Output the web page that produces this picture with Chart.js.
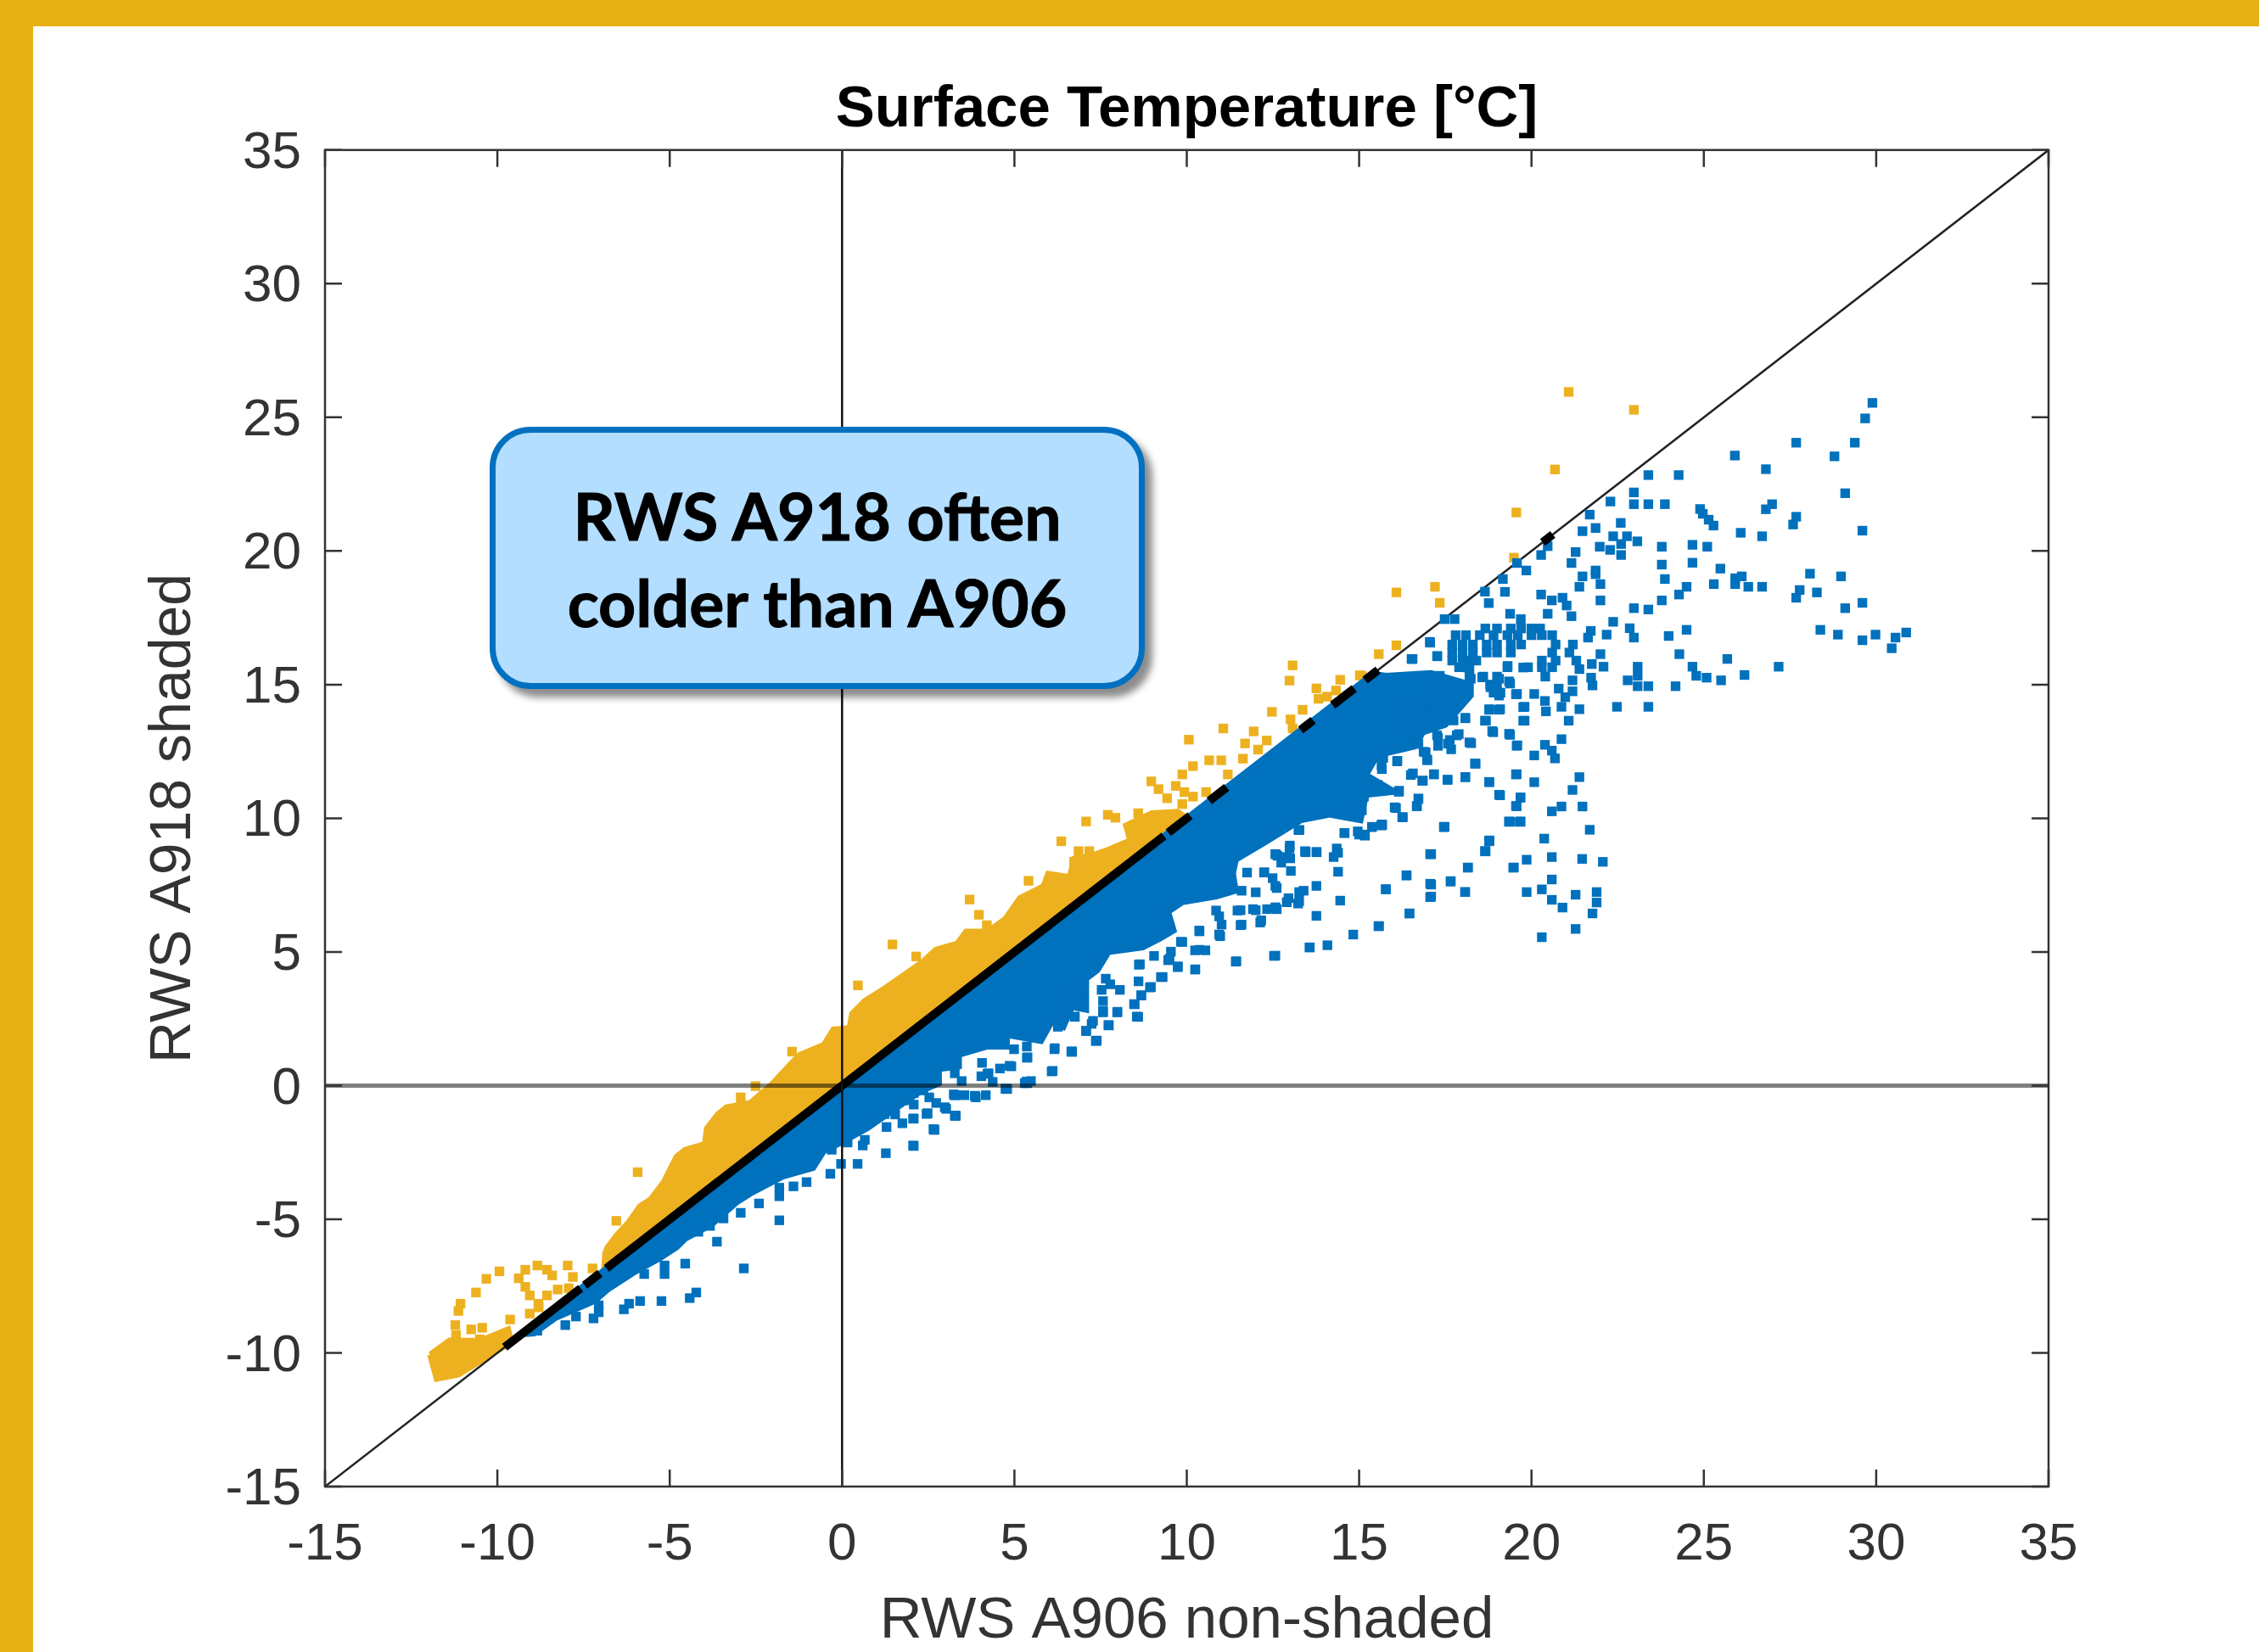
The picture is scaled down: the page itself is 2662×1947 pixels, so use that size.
<!DOCTYPE html>
<html>
<head>
<meta charset="utf-8">
<title>Surface Temperature</title>
<script src="https://cdn.jsdelivr.net/npm/chart.js@4"></script>
<style>
    html, body { margin: 0; padding: 0; background: #fff; }
    #page { position: relative; width: 2662px; height: 1947px; overflow: hidden; }
    #stripTop { position: absolute; left: 0; top: 0; width: 2662px; height: 31px; background: #e6af14; }
    #stripLeft { position: absolute; left: 0; top: 0; width: 39px; height: 1947px; background: #e6af14; }
    #plot { position: absolute; left: 0; top: 0; }
    #callout {
        position: absolute; left: 577px; top: 503px; width: 772px; height: 309px;
        box-sizing: border-box; border: 7px solid #0070c0; border-radius: 48px;
        background: #b3deff; box-shadow: 9px 10px 9px rgba(0, 0, 0, .45);
        display: flex; align-items: center; justify-content: center; text-align: center;
        font: 700 77px/102px Lato, sans-serif; color: #000; -webkit-text-stroke: 1px #000;
    }
</style>
</head>
<body>
<div id="page">
    <div id="stripTop"></div>
    <div id="stripLeft"></div>
    <canvas id="plot" width="2662" height="1947"></canvas>
    <div id="callout"><div>RWS A918 often<br>colder than A906</div></div>
</div>
<script>
// ---- Data ------------------------------------------------------------------
const chartTitle = "Surface Temperature [°C]";
const xTitle = "RWS A906 non-shaded";
const yTitle = "RWS A918 shaded";
const axisMin = -15;
const axisMax = 35;
const tickStep = 5;

// 1:1 line and the two zero lines
const diagonalLine = [[-15, -15], [35, 35]];
const zeroHorizontal = [[-15, 0], [35, 0]];
const zeroVertical = [[0, -15], [0, 35]];

// solid part of the gold cloud (outline, A918 warmer than A906)
const goldOutline = [
    [-6.9, -6.9], [-6.87, -6.26], [-6.8, -6.05], [-6.55, -5.62], [-6.18, -5.1], [-5.86, -4.51],
    [-5.55, -4.25], [-5.17, -3.61], [-4.8, -2.66], [-4.55, -2.4], [-3.98, -2.19], [-3.92, -1.6],
    [-3.6, -1.07], [-3.35, -0.81], [-2.66, -0.65], [-2.04, 0.04], [-1.47, 0.83], [-1.22, 1.15],
    [-0.53, 1.52], [-0.25, 2.1], [0.22, 2.15], [0.29, 2.68], [0.65, 3.16], [1.21, 3.61],
    [1.84, 4.18], [2.34, 4.63], [2.72, 5.08], [3.34, 5.31], [3.6, 5.76], [4.22, 5.76],
    [4.73, 6.22], [5.16, 7.01], [5.85, 7.46], [5.98, 7.92], [6.61, 7.8], [6.73, 8.48],
    [7.23, 8.6], [7.74, 8.83], [8.36, 9.17], [8.24, 9.73], [8.99, 10.19], [9.74, 10.24],
    [10, 10], [-6.9, -6.9]
];
const goldTail = [
    [-11.95, -10.07], [-11.76, -10.97], [-11.13, -10.81], [-9.6, -9.6], [-9.69, -9.12],
    [-10.5, -9.55], [-11.39, -9.54], [-11.95, -10.07]
];
const goldPoints = [
    [0.46, 3.75], [1.46, 5.28], [2.15, 4.83], [3.7, 6.96], [3.97, 6.39], [4.2, 6.0], [5.41, 7.66],
    [5.67, 7.12], [6.36, 9.14], [7.08, 9.88], [6.73, 8.37], [7.71, 10.13], [7.93, 10.02],
    [6.86, 8.77], [7.17, 8.77], [8.59, 10.19], [8.37, 9.68], [8.97, 11.38], [9.18, 11.09],
    [9.43, 10.75], [9.68, 11.21], [9.93, 10.98], [10.18, 10.81], [9.87, 10.53], [10.56, 10.98],
    [9.87, 11.64], [10.18, 11.95], [10.65, 12.17], [11.0, 12.17], [10.06, 12.94], [11.06, 13.36],
    [11.63, 12.23], [11.69, 12.8], [11.94, 13.25], [12.32, 12.91], [12.07, 12.57], [11.19, 11.64],
    [12.47, 13.98], [13.01, 13.7], [13.36, 14.06], [13.07, 13.36], [13.76, 14.86], [13.82, 14.47],
    [14.07, 14.55], [14.45, 15.18], [14.33, 14.78], [15.02, 15.35], [12.98, 15.15], [13.07, 15.72],
    [21.08, 25.95], [22.97, 25.28], [20.68, 23.05], [19.56, 21.44], [19.49, 19.75], [16.08, 18.45],
    [17.2, 18.66], [17.34, 18.06], [16.08, 16.47], [15.57, 16.14], [15.08, 15.33],
    [-1.45, 1.27], [-2.51, -0.02], [-2.94, -0.44], [-5.93, -3.24], [-6.55, -5.06], [-7.24, -6.84],
    [-7.96, -6.73], [-7.81, -7.16], [-8.56, -6.89], [-8.84, -6.73], [-9.19, -6.89], [-8.41, -7.1],
    [-9.38, -7.21], [-9.19, -7.53], [-9.06, -7.85], [-8.81, -8.16], [-8.56, -7.85], [-8.25, -7.63],
    [-7.93, -7.58], [-9.94, -6.95], [-10.32, -7.23], [-10.62, -7.74], [-11.07, -8.16], [-11.13, -8.43],
    [-9.63, -8.75], [-11.22, -8.96], [-11.2, -9.33], [-10.76, -9.12], [-10.44, -9.06], [-10.51, -9.49],
    [-10.95, -9.64], [-9.06, -8.53], [-8.8, -8.3]
];

// solid part of the blue cloud (outline, A918 colder than A906)
const blueOutline = [
    [-9.3, -9.3], [-8.94, -9.27], [-8.31, -8.69], [-7.18, -8.06], [-6.8, -7.63], [-6.43, -7.32],
    [-6.05, -7.0], [-5.3, -6.47], [-4.8, -6.05], [-4.55, -5.73], [-3.79, -5.2], [-3.04, -4.35],
    [-2.66, -4.04], [-1.72, -3.4], [-0.84, -3.08], [-0.53, -2.45], [-0.03, -2.13], [0.73, -1.6],
    [1.4, -1.0], [2.3, -0.2], [2.81, 0.09], [2.81, 0.62], [3.39, 0.72], [3.39, 1.15], [4.21, 1.46],
    [4.78, 1.46], [4.78, 1.89], [5.77, 1.67], [6.09, 2.41], [6.42, 2.2], [6.67, 2.94], [7.08, 2.84],
    [7.08, 4.0], [7.41, 4.32], [7.73, 5.0], [8.72, 5.17], [9.21, 5.49], [9.62, 5.8], [9.46, 6.5],
    [9.87, 6.86], [10.85, 7.07], [11.42, 7.29], [11.34, 7.92], [11.42, 8.45], [12.24, 9.08],
    [13.32, 9.93], [14.14, 10.14], [15.04, 9.93], [15.2, 10.88], [16.03, 10.99], [15.2, 11.62],
    [15.53, 12.36], [16.6, 12.68], [16.85, 13.21], [17.5, 13.5], [18.24, 14.59], [18.24, 15.0],
    [17.09, 15.43], [15.78, 15.33], [15.4, 15.4], [-9.3, -9.3]
];
const bluePoints = [
    // sparse right-hand part
    [29.89, 25.54], [29.68, 24.96], [27.68, 24.05], [29.38, 24.05], [25.9, 23.57], [28.79, 23.54],
    [26.8, 23.06], [23.39, 22.84], [24.27, 22.84], [22.97, 22.19], [29.1, 22.16], [22.29, 21.85],
    [22.97, 21.75], [23.39, 21.75], [23.87, 21.75], [26.98, 21.75], [26.8, 21.56], [24.89, 21.57],
    [24.97, 21.39], [25.14, 21.17], [25.28, 20.95], [21.69, 21.36], [27.68, 21.28], [27.59, 20.99],
    [22.59, 21.05], [21.86, 20.86], [21.48, 20.74], [26.07, 20.68], [26.69, 20.55], [29.6, 20.76],
    [22.37, 20.55], [22.77, 20.55], [23.07, 20.36], [22.6, 20.26], [21.98, 20.16], [22.28, 20.04],
    [23.78, 20.16], [24.67, 20.23], [25.1, 20.16], [20.47, 20.18], [20.28, 19.85], [21.28, 19.96],
    [22.6, 19.85], [21.16, 19.55], [23.78, 19.49], [24.67, 19.56], [25.48, 19.34], [19.58, 19.55],
    [19.85, 19.27], [21.86, 19.27], [21.48, 19.05], [21.86, 19.13], [19.17, 18.95], [23.87, 18.95],
    [28.08, 19.15], [28.98, 19.05], [25.91, 18.98], [26.1, 19.05], [22.0, 18.76], [21.39, 18.66],
    [24.5, 18.66], [25.29, 18.76], [25.91, 18.76], [26.29, 18.66], [26.69, 18.66], [27.78, 18.54],
    [28.28, 18.45], [18.65, 18.48], [19.23, 18.47], [20.28, 18.37], [24.28, 18.37], [27.68, 18.25],
    [20.59, 18.15], [20.9, 18.25], [22.0, 18.15], [23.78, 18.15], [18.76, 18.05], [29.6, 18.06],
    [21.02, 17.96], [22.97, 17.86], [23.39, 17.81], [29.1, 17.86], [19.38, 17.65], [20.47, 17.65],
    [21.16, 17.56], [19.69, 17.45], [17.48, 17.45], [17.77, 17.45], [22.37, 17.35], [24.5, 17.05],
    [28.38, 17.05], [22.85, 17.11], [28.89, 16.87], [30.87, 16.95], [29.98, 16.87], [30.56, 16.76],
    [29.6, 16.66], [23.98, 16.82], [22.97, 16.76], [30.45, 16.36], [21.72, 17.01], [22.18, 16.87],
    [21.64, 16.76], [17.06, 16.57], [24.29, 16.14], [25.68, 15.96], [27.17, 15.67], [17.27, 16.06],
    [22.0, 16.14], [16.55, 15.96], [22.09, 15.67], [21.75, 15.77], [21.39, 15.58], [24.67, 15.67],
    [23.08, 15.67], [23.08, 15.33], [24.78, 15.33], [25.08, 15.26], [25.5, 15.16], [26.18, 15.36],
    [22.79, 15.16], [21.19, 15.16], [21.73, 15.26], [21.77, 14.97], [23.08, 14.94], [23.39, 14.94],
    [24.18, 14.94], [20.79, 14.85], [21.19, 14.75], [20.98, 14.53], [19.38, 15.04], [22.48, 14.17],
    [23.39, 14.17], [21.39, 14.08], [20.87, 14.17], [20.42, 14.0], [19.8, 14.17], [20.39, 14.39],
    [20.08, 14.65], [19.58, 14.65], [19.09, 14.08], [18.78, 14.08], [18.68, 13.65], [19.8, 13.65],
    [21.08, 13.65], [18.89, 13.22], [19.38, 13.12], [20.87, 12.96], [19.57, 12.71], [20.39, 12.75],
    [20.59, 12.53], [20.08, 12.35], [20.68, 12.24], [18.38, 12.04], [19.57, 11.65], [21.39, 11.54],
    [20.08, 11.35], [18.78, 11.35], [18.08, 11.54], [17.57, 11.44], [17.17, 11.65], [21.19, 11.06],
    [19.09, 10.86], [19.68, 10.77], [19.57, 10.45], [20.87, 10.44], [21.48, 10.44], [20.59, 10.26],
    [19.38, 9.87], [19.68, 9.87], [21.69, 9.57], [17.48, 9.68], [20.37, 9.24], [18.78, 9.17],
    [18.67, 8.76], [17.06, 8.66], [20.59, 8.55], [19.86, 8.45], [21.47, 8.48], [22.07, 8.37],
    [18.16, 8.16], [19.49, 8.16], [16.38, 7.87], [20.59, 7.71], [17.66, 7.65], [17.06, 7.55],
    [15.78, 7.34], [18.08, 7.24], [19.86, 7.24], [20.3, 7.34], [21.89, 7.24], [21.28, 7.14],
    [17.06, 7.05], [20.59, 6.95], [21.89, 6.85], [20.9, 6.66], [16.46, 6.44], [21.77, 6.44],
    [15.56, 5.96], [21.28, 5.86], [20.3, 5.55],
    // denser knot around (18, 16)
    [18.66, 17.1], [19.0, 17.1], [19.4, 17.1], [19.7, 17.1], [20.0, 17.1], [20.25, 17.1],
    [17.8, 16.85], [18.1, 16.85], [18.5, 16.85], [18.9, 16.85], [19.3, 16.85], [19.6, 16.85],
    [20.0, 16.85], [20.3, 16.85], [20.6, 16.85], [17.7, 16.5], [18.0, 16.5], [18.3, 16.5],
    [18.7, 16.5], [19.0, 16.5], [19.4, 16.5], [19.7, 16.5], [20.7, 16.5], [21.2, 16.5],
    [17.7, 16.2], [18.0, 16.2], [18.3, 16.2], [18.7, 16.2], [19.0, 16.2], [19.4, 16.2],
    [20.6, 16.2], [21.1, 16.2], [17.7, 15.9], [18.0, 15.9], [18.2, 15.9], [18.4, 15.9],
    [20.3, 15.9], [20.7, 15.9], [21.3, 15.9], [17.9, 15.65], [18.2, 15.65], [19.3, 15.65],
    [19.9, 15.65], [20.3, 15.65], [20.6, 15.65], [18.2, 15.3], [18.6, 15.3], [19.0, 15.3], [20.4, 15.3],
    [18.8, 15.0], [19.0, 15.0], [18.9, 14.7], [19.1, 14.7],
    // fringe below the solid cloud, upper end
    [17.34, 15.33], [17.42, 14.9], [17.75, 14.69], [16.52, 15.96], [17.26, 16.07], [17.05, 16.6],
    [16.52, 14.16], [16.93, 14.27], [17.5, 14.27], [18.08, 13.74], [17.42, 13.69], [16.93, 13.85],
    [16.44, 13.63], [17.83, 13.1], [17.26, 13.1], [16.68, 13.1], [17.58, 12.79], [17.67, 12.58],
    [16.93, 12.47], [16.97, 12.2], [16.11, 12.15], [15.7, 12.26], [15.66, 11.84], [16.56, 11.68],
    [16.85, 11.41], [17.17, 11.64], [17.56, 11.44], [18.08, 11.54], [16.15, 10.99], [16.72, 10.72],
    [16.68, 10.46], [16.03, 10.41], [16.27, 10.04], [15.66, 9.77], [15.37, 9.67], [14.96, 9.51],
    [15.17, 9.35], [14.57, 9.45], [17.46, 9.67], [18.77, 11.36], [19.06, 10.88], [19.55, 10.46],
    [19.68, 10.78], [19.35, 9.88], [19.68, 9.88], [18.77, 9.14], [18.65, 8.77], [17.07, 8.66],
    [14.35, 8.87], [14.26, 8.55], [13.77, 8.73], [13.44, 8.73], [12.99, 8.98], [12.91, 8.55],
    [12.58, 8.66], [13.24, 9.56], [18.36, 12.05], [19.59, 12.73], [19.55, 11.64], [18.2, 12.84],
    [19.35, 13.16], [18.86, 13.26], [18.65, 13.65], [19.76, 13.65], [18.77, 14.06], [19.06, 14.06],
    [19.76, 14.16], [19.55, 14.64], [19.06, 14.59], [18.81, 14.9], [19.06, 15.22], [18.57, 15.27],
    [19.35, 15.12], [19.31, 15.7], [19.76, 15.64], [18.16, 15.64], [18.24, 15.22],
    [16.33, 13], [16.72, 13.15], [16.72, 12.78], [17.29, 13], [17.29, 12.71], [17.63, 12.93],
    [17.89, 13.15], [18.25, 12.81], [16.87, 12.49], [16.98, 12.17], [16.1, 12.13], [15.65, 11.98],
    [15.65, 12.27], [16.5, 11.62], [16.83, 11.4], [16.16, 11.03], [15.54, 11.25], [15.2, 11.4],
    [16.72, 10.74], [16.67, 10.45], [16.07, 10.38], [16.25, 10.04], [15.37, 9.68], [15.67, 9.75],
    [15.14, 9.39], [15.08, 10.3], [15.14, 10.81], [16.95, 13.88], [17.34, 13.66], [17.74, 13.66],
    [18.08, 13.76], [17.29, 14.31], [17.85, 14.46],
    // fringe below the solid cloud, middle
    [7.65, 4.0], [7.53, 3.58], [7.78, 3.79], [8.06, 3.58], [7.57, 3.16], [7.98, 2.74], [7.57, 2.74],
    [8.55, 2.58], [8.47, 3.05], [8.68, 3.37], [8.6, 3.9], [8.96, 3.69], [9.25, 4.06], [8.64, 4.54],
    [9.05, 4.85], [9.46, 4.69], [9.74, 4.43], [10.24, 4.34], [9.54, 5.01], [10.24, 5.06], [10.54, 5.06],
    [9.83, 5.38], [11.42, 4.64], [12.53, 4.85], [13.56, 5.17], [10.36, 5.8], [10.97, 5.59], [11.01, 6.02],
    [10.85, 6.55], [11.59, 6.02], [12.16, 6.18], [11.47, 6.55], [11.92, 6.6], [12.33, 6.6], [12.61, 6.6],
    [12.9, 6.86], [13.23, 6.81], [13.39, 7.29], [12.0, 7.23], [11.59, 7.29], [12.61, 7.39], [12.24, 7.97],
    [12.49, 7.76], [13.02, 8.03], [12.74, 8.34], [12.57, 8.66], [12.98, 8.87], [13.43, 8.77], [11.75, 7.97],
    [13.27, 9.56], [7.24, 2.31], [7.08, 2.05], [7.73, 2.26], [7.37, 1.68], [6.67, 1.26], [6.75, 2.58],
    [6.91, 3.27], [6.83, 3.69], [6.46, 2.84], [6.46, 3.48],
    [10.25, 4.35], [9.74, 4.46], [9.3, 4.06], [8.93, 3.67], [8.68, 3.38], [8.49, 3.04], [8.59, 2.57],
    [7.99, 2.76], [7.74, 2.25], [7.39, 1.68], [6.67, 1.28], [6.17, 1.4], [6.11, 0.55], [5.38, 1.06],
    [5.35, 0.15], [4.79, -0.13], [4.91, 0.72], [4.22, 0.44], [3.85, -0.38], [3.28, -0.36],
    [3.28, -1.12], [2.68, -1.66], [2.47, -1.04], [11.44, 4.65], [12.57, 4.86], [13.57, 5.17],
    [14.08, 5.25], [14.83, 5.65], [15.58, 5.97], [16.46, 6.44], [13.76, 6.35], [14.45, 6.92],
    [15.77, 7.35], [17.09, 7.07], [17.09, 7.52], [18.07, 7.24], [17.65, 7.63], [16.37, 7.86],
    [18.15, 8.15], [19.47, 8.15], [17.09, 8.66], [18.66, 8.77], [18.78, 9.17], [14.39, 8.71],
    [14.39, 8.0], [13.76, 8.74], [13.45, 8.74], [15, 9.39], [14.58, 9.45], [15.64, 9.73],
    [17.46, 9.68], [19.35, 9.87], [19.66, 9.87], [13.0, 8.5], [12.63, 8.6], [12.25, 7.98],
    [12.57, 7.47], [13.26, 7.24], [13.76, 7.47], [12.95, 7.01], [13.26, 6.9], [12.57, 6.67],
    [12, 6.56], [11.56, 6.56], [11.56, 6], [12.13, 6.1], [10.94, 5.65], [10.94, 6.33], [10.37, 5.77],
    [10.37, 5.08], [9.87, 5.37], [9.5, 4.74], [8.61, 4.52],
    // fringe below the solid cloud, around zero
    [7, 3.47], [6.75, 2.57], [6.26, 2.2], [7.28, 2.42], [7.08, 2.04], [7.36, 1.67], [7.73, 2.26],
    [7.57, 2.79], [5.36, 1.46], [4.99, 1.36], [5.36, 1.04], [6.16, 1.36], [6.65, 1.27], [6.08, 0.53],
    [4.86, 0.74], [4.58, 0.64], [4.06, 0.85], [3.27, 0.46], [4.25, 0.46], [4.04, 0.35], [3.47, 0.17],
    [4.37, 0.14], [5.3, 0.09], [5.48, 0.17], [4.77, -0.12], [4.17, -0.36], [3.88, -0.44], [3.55, -0.36],
    [3.27, -0.36], [3.02, -0.87], [3.27, -1.13], [2.73, -0.65], [2.53, -0.44], [2.45, -1.06],
    [2.06, -1.24], [1.75, -1.41], [2.65, -1.63], [2.06, -2.24], [2.08, -0.71], [1.79, -0.55],
    [1.54, -1.08], [2.36, -0.18], [2.08, -0.28],
    [-2.85, -6.84], [-4.23, -7.74], [-4.42, -7.95], [-5.24, -8.06], [-5.86, -8.06], [-6.18, -8.16],
    [-6.33, -8.37], [-7.21, -8.71], [-7.06, -8.22], [-7.06, -8.48], [-7.72, -8.64], [-8.03, -8.96],
    [-8.84, -9.17], [-4.55, -6.66], [-5.15, -6.73], [-5.15, -7.05], [-5.74, -7.05], [-3.63, -5.84],
    [-1.82, -5.04], [-2.94, -4.76], [-3.44, -4.97], [-3.83, -5.25], [-4.17, -5.47], [-2.41, -4.41],
    [-1.82, -4.14], [-1.82, -3.82], [2.08, -2.26], [1.27, -2.53], [0.45, -2.93], [-0.03, -2.93],
    [-0.34, -3.3], [-0.3, -2.4], [0.16, -2.13], [0.6, -2.24], [2.67, -1.64], [3.3, -1.13],
    [2.08, -1.23], [1.29, -1.55], [2.98, -0.81], [2.48, -1.04], [3.86, -0.39], [3.24, -0.33],
    [4.74, -0.12], [5.37, 0.09], [-1.03, -3.61], [-1.41, -3.77], [0.66, -2.03], [1.23, -1.07], [1.79, -0.55]
];

// black marks: runs where both sensors agree, [from, to] along the 1:1 line
const equalRuns = [
    [-9.69, -8.62], [-8.56, -8.25], [-8.06, -7.68], [-7.37, -7.12], [-6.74, -6.49], [-6.43, -6.18],
    [-5.99, -4.99], [-4.92, -3.67], [-3.6, -3.23], [-3.1, -2.73], [-2.6, 8.11], [8.24, 8.99],
    [9.05, 9.24], [9.56, 10.0], [10.75, 11.06], [13.4, 13.57], [14.33, 14.45], [14.64, 14.76],
    [15.27, 15.45], [20.42, 20.52]
];

// ---- Chart helpers ---------------------------------------------------------
const GOLD = "#edb120";
const BLUE = "#0071bd";
const INK = "#333333";

const toXY = (pairs) => pairs.map(([x, y]) => ({ x, y }));
// a null entry breaks the line between two runs
const runsToLine = (runs) =>
    runs.flatMap(([a, b]) => [{ x: a, y: a }, { x: b, y: b }, { x: null, y: null }]);

const cloud = (pairs, color) => ({
    data: toXY(pairs),
    showLine: false,
    pointStyle: "rect",
    pointRadius: 8,
    pointBorderWidth: 0,
    pointBackgroundColor: color,
    clip: false,
});
const shape = (pairs, color) => ({
    data: toXY(pairs),
    showLine: true,
    fill: "shape",
    backgroundColor: color,
    borderColor: color,
    borderWidth: 7,
    pointRadius: 0,
    tension: 0,
});
const rule = (pairs, color, width) => ({
    data: toXY(pairs),
    showLine: true,
    borderColor: color,
    borderWidth: width,
    pointRadius: 0,
});

// MATLAB style box with the tick marks on the inside
const boxAndTicks = {
    id: "boxAndTicks",
    afterDraw(chart) {
        const { ctx, chartArea: a, scales } = chart;
        const len = 20;
        ctx.save();
        ctx.strokeStyle = INK;
        ctx.lineWidth = 2.5;
        ctx.strokeRect(a.left, a.top, a.right - a.left, a.bottom - a.top);
        ctx.beginPath();
        scales.x.ticks.forEach((t) => {
            const px = scales.x.getPixelForValue(t.value);
            ctx.moveTo(px, a.bottom);
            ctx.lineTo(px, a.bottom - len);
            ctx.moveTo(px, a.top);
            ctx.lineTo(px, a.top + len);
        });
        scales.y.ticks.forEach((t) => {
            const py = scales.y.getPixelForValue(t.value);
            ctx.moveTo(a.left, py);
            ctx.lineTo(a.left + len, py);
            ctx.moveTo(a.right, py);
            ctx.lineTo(a.right - len, py);
        });
        ctx.stroke();
        ctx.restore();
    },
};

const FONT = "'Liberation Sans', Arial, sans-serif";
const linearAxis = (title, titleSize, titlePadding, tickPadding, labelOffset, fit) => ({
    type: "linear",
    min: axisMin,
    max: axisMax,
    grid: { display: false, drawTicks: false },
    border: { display: false },
    ticks: {
        stepSize: tickStep,
        color: INK,
        font: { family: FONT, size: 62 },
        padding: tickPadding,
        labelOffset,
        maxRotation: 0,
        autoSkip: false,
    },
    title: {
        display: true,
        text: title,
        color: INK,
        font: { family: FONT, size: titleSize, lineHeight: 1 },
        padding: titlePadding,
    },
    afterFit: fit,
});

new Chart(document.getElementById("plot"), {
    type: "scatter",
    data: {
        // the first dataset is drawn last, so the list runs from top to bottom
        datasets: [
            rule(zeroVertical, "#111111", 2.5),
            rule(zeroHorizontal, "rgba(0,0,0,.5)", 5),
            {
                data: runsToLine(equalRuns),
                showLine: true,
                spanGaps: false,
                borderColor: "#000000",
                borderWidth: 10,
                borderCapStyle: "square",
                pointRadius: 0,
            },
            cloud(bluePoints, BLUE),
            shape(blueOutline, BLUE),
            rule(diagonalLine, "#222222", 2.5),
            cloud(goldPoints, GOLD),
            shape(goldTail, GOLD),
            shape(goldOutline, GOLD),
        ],
    },
    plugins: [boxAndTicks],
    options: {
        responsive: false,
        animation: false,
        events: [],
        layout: { padding: { left: 0, right: 248, top: 0, bottom: 0 } },
        plugins: {
            legend: { display: false },
            tooltip: { enabled: false },
            title: {
                display: true,
                text: chartTitle,
                fullSize: false,
                color: "#000000",
                font: { family: FONT, size: 69, weight: "bold" },
                padding: { top: 89, bottom: 5 },
            },
        },
        scales: {
            x: linearAxis(xTitle, 69, { top: 0, bottom: 2 }, 32, 0, (s) => { s.height = 195; }),
            y: linearAxis(yTitle, 68, { top: 171, bottom: 0 }, 28, 4, (s) => { s.width = 383; }),
        },
    },
});
</script>
</body>
</html>
